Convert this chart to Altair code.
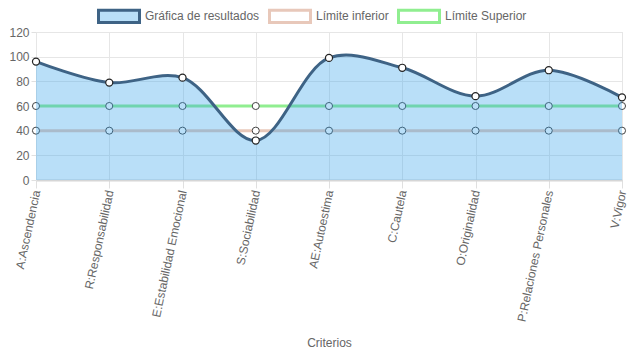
import altair as alt
import pandas as pd

categorias = [
    "A:Ascendencia", "R:Responsabilidad", "E:Estabilidad Emocional",
    "S:Sociabilidad", "AE:Autoestima", "C:Cautela", "O:Originalidad",
    "P:Relaciones Personales", "V:Vigor",
]
resultados = [96, 79, 83, 32, 99, 91, 68, 89, 67]
limite_inferior = [40, 40, 40, 40, 40, 40, 40, 40, 40]
limite_superior = [60, 60, 60, 60, 60, 60, 60, 60, 60]
series = ["Gráfica de resultados", "Límite inferior", "Límite Superior"]
colores_borde = ["#3e6385", "#e8c8ba", "#90ee90"]
colores_relleno = ["rgba(54,162,235,0.35)", "#ffffff", "#ffffff"]
y_ticks = [0, 20, 40, 60, 80, 100, 120]

FONT = "Liberation Sans"

df_res = pd.DataFrame({"criterio": categorias, "valor": resultados, "serie": series[0]})
df_lim = pd.concat([
    pd.DataFrame({"criterio": categorias, "valor": limite_superior, "serie": series[2]}),
    pd.DataFrame({"criterio": categorias, "valor": limite_inferior, "serie": series[1]}),
], ignore_index=True)

x_enc = alt.X(
    "criterio:N",
    sort=categorias,
    scale=alt.Scale(type="point", padding=0, domain=categorias),
    axis=alt.Axis(
        title="Criterios", labelAngle=282, labelFontSize=12, labelColor="#666",
        labelFont=FONT, titleFont=FONT, titleFontSize=12, titleColor="#666",
        titleFontWeight="normal", titleY=157, titleBaseline="top",
        tickSize=8, tickColor="#e0e0e0", labelPadding=2, labelOverlap=False,
        grid=True, gridColor="#e6e6e6", domainColor="#d6d6d6", domainWidth=2,
        labelLimit=300,
    ),
)
y_enc = alt.Y(
    "valor:Q",
    scale=alt.Scale(domain=[0, 120], nice=False),
    axis=alt.Axis(
        values=y_ticks, title=None, labelFontSize=12, labelColor="#666",
        labelFont=FONT, tickSize=5, tickColor="#e0e0e0", labelPadding=2,
        grid=True, gridColor="#e6e6e6", domainColor="#e6e6e6",
    ),
)

legend = alt.Legend(
    orient="none", legendX=61, legendY=-38, direction="horizontal", title=None,
    symbolType="M-1,-0.3L1,-0.3L1,0.3L-1,0.3Z", symbolSize=1681,
    symbolStrokeWidth=3, labelFontSize=12, labelColor="#666", labelFont=FONT,
    columnPadding=3, labelOffset=4,
)
stroke_enc = alt.Stroke(
    "serie:N", scale=alt.Scale(domain=series, range=colores_borde), legend=legend
)
fill_enc = alt.Fill(
    "serie:N", scale=alt.Scale(domain=series, range=colores_relleno), legend=legend
)

lim_lines = alt.Chart(df_lim).mark_line(strokeWidth=3).encode(
    x=x_enc, y=y_enc, stroke=stroke_enc, detail="serie:N"
)
lim_points = alt.Chart(df_lim).mark_point(
    filled=True, fill="white", stroke="#444", strokeWidth=1, size=50, opacity=1
).encode(x=x_enc, y=y_enc)

area = alt.Chart(df_res).mark_area(interpolate="catmull-rom").encode(
    x=x_enc, y=y_enc, fill=fill_enc
)
line = alt.Chart(df_res).mark_line(interpolate="catmull-rom", strokeWidth=3).encode(
    x=x_enc, y=y_enc, stroke=stroke_enc
)
points = alt.Chart(df_res).mark_point(
    filled=True, fill="white", stroke="#222", strokeWidth=1.2, size=50, opacity=1
).encode(x=x_enc, y=y_enc)

chart = alt.layer(lim_lines, lim_points, area, line, points).properties(
    width=586, height=148,
    autosize=alt.AutoSizeParams(type="none"),
    padding={"left": 28, "top": 24, "right": 7, "bottom": 169},
).configure_view(stroke=None).configure(font=FONT)

chart.save("out.html", embed_options={"renderer": "svg", "actions": False})
